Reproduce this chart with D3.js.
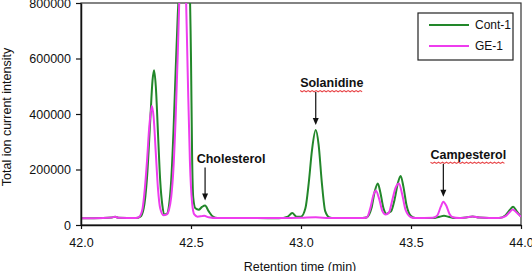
<!DOCTYPE html>
<html>
<head>
<meta charset="utf-8">
<script src="https://cdn.jsdelivr.net/npm/d3@7"></script>
<style>
  body { margin: 0; background: #fff; }
  svg { display: block; font-family: "Liberation Sans", Arial, sans-serif; }
</style>
</head>
<body>
<div id="canvas"></div>
<script>
// Cont-1 trace (retention time in min, total ion current)
const contTime = [42.00, 42.10, 42.14, 42.155, 42.17, 42.25, 42.27, 42.285, 42.30, 42.315, 42.325, 42.332, 42.34, 42.35, 42.36, 42.37, 42.38,
  42.39, 42.40, 42.41, 42.42, 42.43, 42.44, 42.455, 42.47, 42.48, 42.49, 42.50, 42.505, 42.51, 42.52, 42.535, 42.55, 42.564, 42.58, 42.60, 42.62,
  42.80, 42.90, 42.94, 42.96, 42.98, 43.00, 43.02, 43.035, 43.05, 43.067, 43.08, 43.095, 43.11, 43.13, 43.15,
  43.28, 43.30, 43.32, 43.335, 43.349, 43.36, 43.375, 43.39, 43.40, 43.41, 43.425, 43.44, 43.453, 43.465, 43.48, 43.50, 43.52,
  43.60, 43.63, 43.65, 43.67, 43.70, 43.75, 43.78, 43.81, 43.90, 43.93, 43.95, 43.964, 43.98, 44.00];
const contValue = [24000, 25000, 27000, 30000, 26000, 25000, 30000, 60000, 170000, 380000, 520000, 558000, 500000, 330000, 160000, 70000, 38000,
  40000, 70000, 160000, 330000, 550000, 760000, 1000000, 1200000, 1200000, 1000000, 600000, 250000, 100000, 60000, 55000, 65000, 70000, 50000, 30000, 25000,
  25000, 24000, 30000, 43000, 30000, 30000, 60000, 150000, 270000, 342000, 290000, 150000, 50000, 27000, 25000,
  25000, 28000, 60000, 120000, 150000, 120000, 60000, 40000, 45000, 50000, 90000, 150000, 177000, 140000, 70000, 32000, 25000,
  25000, 30000, 33000, 30000, 25000, 27000, 31000, 27000, 25000, 35000, 55000, 66000, 50000, 30000];

// GE-1 trace
const geTime = [42.00, 42.10, 42.14, 42.155, 42.17, 42.25, 42.265, 42.28, 42.29, 42.30, 42.31, 42.322, 42.33, 42.34, 42.35, 42.36, 42.375,
  42.39, 42.40, 42.41, 42.42, 42.43, 42.44, 42.45, 42.463, 42.475, 42.485, 42.495, 42.505, 42.515, 42.53, 42.55, 42.56, 42.58, 42.62,
  42.90, 43.00, 43.067, 43.13, 43.28, 43.30, 43.315, 43.33, 43.34, 43.355, 43.37, 43.385, 43.40, 43.415, 43.43, 43.445, 43.46, 43.475, 43.50, 43.52,
  43.60, 43.62, 43.635, 43.647, 43.66, 43.675, 43.69, 43.72, 43.75, 43.78, 43.81, 43.90, 43.93, 43.95, 43.962, 43.98, 44.00];
const geValue = [24000, 25000, 27000, 30000, 26000, 25000, 30000, 60000, 130000, 230000, 350000, 429000, 390000, 260000, 130000, 60000, 35000,
  38000, 55000, 100000, 200000, 380000, 620000, 900000, 1150000, 900000, 550000, 230000, 80000, 38000, 30000, 32000, 33000, 28000, 25000,
  25000, 26000, 28000, 25000, 25000, 28000, 60000, 110000, 124000, 95000, 50000, 38000, 45000, 90000, 135000, 150000, 110000, 55000, 28000, 25000,
  26000, 35000, 65000, 84000, 70000, 40000, 28000, 25000, 27000, 31000, 27000, 25000, 32000, 48000, 56000, 45000, 30000];

const xTicks = [42.0, 42.5, 43.0, 43.5, 44.0];
const yTicks = [0, 200000, 400000, 600000, 800000];

const seriesNames = ["Cont-1", "GE-1"];
const seriesColors = ["#22872a", "#ee3cee"];

// peak labels: name, retention time, peak top value
const labelNames = ["Cholesterol", "Solanidine", "Campesterol"];
const labelTimes = [42.564, 43.067, 43.647];
const labelPeaks = [70000, 342000, 84000];
const labelSpell = [false, true, true];

const width = 532;
const height = 271;
const margin = { top: 3, left: 81, bottom: 46, right: 11 };
const iwidth = width - margin.left - margin.right;
const iheight = height - margin.top - margin.bottom;

const svg = d3.select("#canvas").append("svg")
  .attr("width", width)
  .attr("height", height);

svg.append("defs").append("clipPath").attr("id", "plotclip")
  .append("rect").attr("width", iwidth).attr("height", iheight);

const g = svg.append("g").attr("transform", `translate(${margin.left},${margin.top})`);

const x = d3.scaleLinear().domain([42, 44]).range([0, iwidth]);
const y = d3.scaleLinear().domain([0, 800000]).range([iheight, 0]);

// frame
g.append("rect")
  .attr("width", iwidth).attr("height", iheight)
  .attr("fill", "none").attr("stroke", "#333").attr("stroke-width", 1.2);

const line = d3.line()
  .x((d) => x(d[0]))
  .y((d) => y(d[1]))
  .curve(d3.curveMonotoneX);

const traces = [d3.zip(contTime, contValue), d3.zip(geTime, geValue)];

g.append("g").attr("clip-path", "url(#plotclip)")
  .selectAll("path")
  .data(traces)
  .enter()
  .append("path")
  .attr("d", line)
  .attr("fill", "none")
  .attr("stroke", (d, i) => seriesColors[i])
  .attr("stroke-width", 2)
  .attr("stroke-linejoin", "round");

// axes
const xAxis = g.append("g")
  .attr("transform", `translate(0,${iheight})`)
  .call(d3.axisBottom(x).tickValues(xTicks).tickFormat(d3.format(".1f")).tickSize(4).tickSizeOuter(0));
const yAxis = g.append("g")
  .call(d3.axisLeft(y).tickValues(yTicks).tickFormat(d3.format("d")).tickSize(5).tickSizeOuter(0));

[xAxis, yAxis].forEach((a) => {
  a.select(".domain").attr("stroke", "#111").attr("stroke-width", 1.5);
  a.selectAll(".tick line").attr("stroke", "#111").attr("stroke-width", 1.2);
  a.selectAll("text").attr("fill", "#111").style("font-size", "12.5px")
    .style("font-family", "'Liberation Sans', Arial, sans-serif");
});
xAxis.selectAll("text").attr("dy", "1.2em");
yAxis.selectAll("text").attr("x", -10);

// axis titles
svg.append("text")
  .attr("transform", `translate(11,${margin.top + iheight / 2 + 3}) rotate(-90)`)
  .attr("text-anchor", "middle")
  .style("font-size", "12.5px")
  .attr("fill", "#111")
  .text("Total ion current intensity");

svg.append("text")
  .attr("x", 300).attr("y", 271)
  .attr("text-anchor", "middle")
  .style("font-size", "12.5px")
  .attr("fill", "#111")
  .text("Retention time (min)");

// peak annotations (text sits right of the arrow)
const textShift = { Cholesterol: 26, Solanidine: 16, Campesterol: 25 };

const ann = g.selectAll(".ann")
  .data(labelNames.map((n, i) => ({ name: n, t: labelTimes[i], v: labelPeaks[i], spell: labelSpell[i] })))
  .enter().append("g").attr("class", "ann");

ann.append("line")
  .attr("x1", (d) => x(d.t)).attr("x2", (d) => x(d.t))
  .attr("y1", (d) => y(d.v) - 38).attr("y2", (d) => y(d.v) - 9)
  .attr("stroke", "#111").attr("stroke-width", 1.2);

ann.append("path")
  .attr("d", (d) => {
    const ax = x(d.t), ay = y(d.v) - 5;
    return `M${ax},${ay} L${ax - 3},${ay - 7} L${ax + 3},${ay - 7} Z`;
  })
  .attr("fill", "#111");

const annText = ann.append("text")
  .attr("x", (d) => x(d.t) + textShift[d.name])
  .attr("y", (d) => y(d.v) - 43)
  .attr("text-anchor", "middle")
  .style("font-size", "12.5px")
  .style("font-weight", "bold")
  .attr("fill", "#111")
  .text((d) => d.name);

// red spell-check squiggle under some labels
annText.each(function (d) {
  if (!d.spell) return;
  const w = this.getComputedTextLength();
  const cx = x(d.t) + textShift[d.name];
  const uy = y(d.v) - 39.5;
  const pts = d3.range(0, Math.floor(w / 2) + 1).map((k) => [cx - w / 2 + k * 2, uy + (k % 2 ? 1.2 : 0)]);
  d3.select(this.parentNode).append("path")
    .attr("d", d3.line()(pts))
    .attr("fill", "none")
    .attr("stroke", "#e8474a").attr("stroke-width", 1.1);
});

// legend
const lg = g.append("g").attr("transform", `translate(${iwidth - 103},10)`);
lg.append("rect")
  .attr("width", 95).attr("height", 47)
  .attr("fill", "#fff").attr("stroke", "#222").attr("stroke-width", 1.2);
seriesNames.forEach((n, i) => {
  lg.append("line")
    .attr("x1", 11).attr("x2", 51)
    .attr("y1", 12 + i * 21).attr("y2", 12 + i * 21)
    .attr("stroke", seriesColors[i]).attr("stroke-width", 2);
  lg.append("text")
    .attr("x", 57).attr("y", 16 + i * 21)
    .style("font-size", "12px")
    .attr("fill", "#111")
    .text(n);
});
</script>
</body>
</html>
